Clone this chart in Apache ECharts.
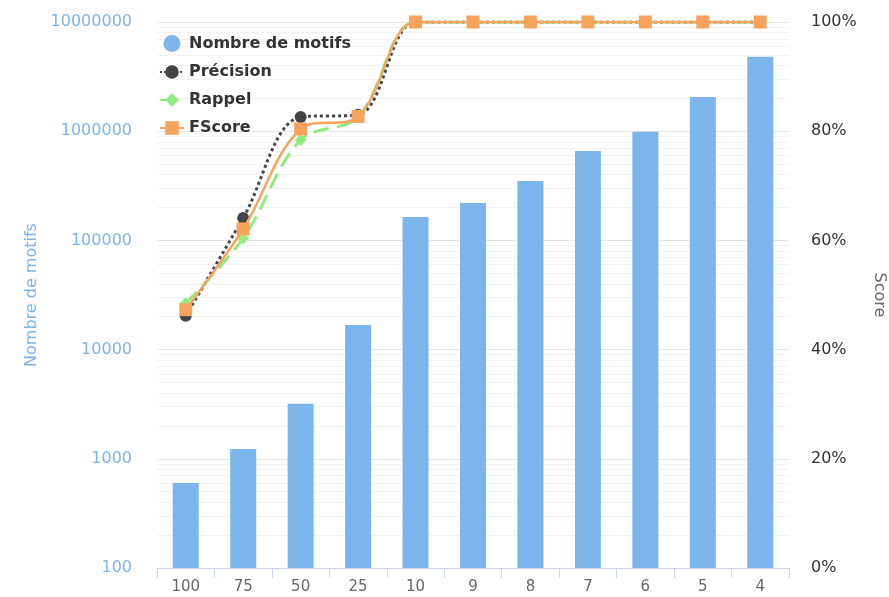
<!DOCTYPE html>
<html>
<head>
<meta charset="utf-8">
<script src="https://cdn.jsdelivr.net/npm/echarts@6/dist/echarts.min.js"></script>
<style>
  html, body { margin: 0; padding: 0; background: #fff; }
  #chart { width: 889px; height: 597px; }
</style>
</head>
<body>
<div id="chart"></div>
<script>
const categories = ['100', '75', '50', '25', '10', '9', '8', '7', '6', '5', '4']
const motifs = [600, 1230, 3200, 16800, 164000, 220000, 350000, 660000, 990000, 2060000, 4800000]
const precision = [46.2, 64.1, 82.6, 83.0, 100, 100, 100, 100, 100, 100, 100]
const rappel = [48.5, 60.4, 78.4, 82.6, 100, 100, 100, 100, 100, 100, 100]
const fscore = [47.3, 62.1, 80.4, 82.7, 100, 100, 100, 100, 100, 100, 100]

// minor log grid lines (2..9 x each decade)
const minorLines = []
for (let d = 100; d < 10000000; d *= 10) {
  for (let k = 2; k <= 9; k++) minorLines.push({ yAxis: d * k })
}

const font = 'DejaVu Sans'
const chart = echarts.init(document.getElementById('chart'))

const option = {
  animation: false,
  grid: { left: 157, right: 100, top: 22, bottom: 29, outerBoundsMode: 'none' },
  legend: {
    orient: 'vertical',
    left: 154,
    top: 30,
    itemGap: 12,
    itemWidth: 24,
    itemHeight: 17,
    data: [
      { name: 'Nombre de motifs', icon: 'circle' },
      'Précision', 'Rappel', 'FScore'
    ],
    textStyle: { fontFamily: font, fontSize: 16, fontWeight: 'bold', color: '#333' }
  },
  xAxis: {
    type: 'category',
    data: categories,
    boundaryGap: true,
    axisLine: { lineStyle: { color: '#ccd6eb' } },
    axisTick: { show: true, length: 10, lineStyle: { color: '#ccd6eb' } },
    axisLabel: { color: '#666', fontFamily: font, fontSize: 15, margin: 12 }
  },
  yAxis: [
    {
      type: 'log',
      logBase: 10,
      min: 100,
      max: 10000000,
      name: 'Nombre de motifs',
      nameLocation: 'middle',
      nameGap: 114,
      nameTextStyle: { color: '#7cb5ec', fontFamily: font, fontSize: 16 },
      axisLine: { show: false },
      axisTick: { show: false },
      axisLabel: {
        color: '#7cb5ec', fontFamily: font, fontSize: 16, margin: 25,
        formatter: v => String(Math.round(v))
      },
      splitLine: { lineStyle: { color: '#e6e6e6' } }
    },
    {
      type: 'value',
      min: 0,
      max: 100,
      interval: 20,
      name: 'Score',
      nameLocation: 'middle',
      nameGap: 82,
      nameRotate: -90,
      nameTextStyle: { color: '#666', fontFamily: font, fontSize: 16 },
      axisLine: { show: false },
      axisTick: { show: false },
      axisLabel: { color: '#333', fontFamily: font, fontSize: 16, margin: 22, formatter: '{value}%' },
      splitLine: { show: false }
    }
  ],
  series: [
    {
      name: 'Nombre de motifs',
      type: 'bar',
      yAxisIndex: 0,
      data: motifs,
      barWidth: 26,
      itemStyle: { color: '#7cb5ec' },
      markLine: {
        z: 1,
        silent: true,
        symbol: 'none',
        label: { show: false },
        lineStyle: { color: '#f2f2f2', type: 'solid', width: 1 },
        data: minorLines
      }
    },
    {
      name: 'Précision',
      type: 'line',
      yAxisIndex: 1,
      data: precision,
      smooth: 0.35,
      symbol: 'circle',
      symbolSize: 12,
      itemStyle: { color: '#434348' },
      lineStyle: { type: 'dotted', width: 3, color: '#434348' },
      z: 3
    },
    {
      name: 'Rappel',
      type: 'line',
      yAxisIndex: 1,
      data: rappel,
      smooth: 0.35,
      symbol: 'diamond',
      symbolSize: 12,
      itemStyle: { color: '#90ed7d' },
      lineStyle: { type: [16, 8], width: 3, color: '#90ed7d' },
      z: 4
    },
    {
      name: 'FScore',
      type: 'line',
      yAxisIndex: 1,
      data: fscore,
      smooth: 0.35,
      symbol: 'rect',
      symbolSize: 13,
      itemStyle: { color: '#f7a35c' },
      lineStyle: { width: 2.5, color: '#f7a35c' },
      z: 5
    }
  ]
}

chart.setOption(option)
</script>
</body>
</html>
